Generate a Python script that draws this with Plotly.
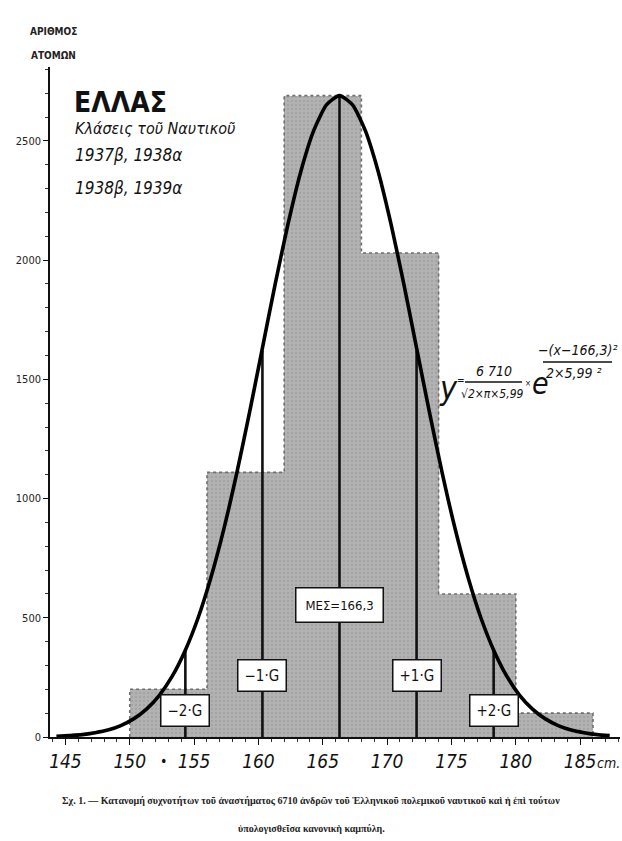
import plotly.graph_objects as go

# ---------------- data ----------------
bin_edges = [150, 156, 162, 168, 174, 180, 186]
counts = [200, 1110, 2690, 2030, 600, 100]

mean_value = 166.3
sd_value = 5.99
sigma_multiples = [-2, -1, 0, 1, 2]
sigma_line_tops = [365, 1620, 2690, 1620, 365]
sigma_labels = ["−2·G", "−1·G", "ΜΕΣ=166,3", "+1·G", "+2·G"]
sigma_label_y = [113, 256, 554, 256, 113]

curve_x = [144.3, 145.3, 146.3, 147.3, 148.3, 149.3, 150.3, 151.3, 152.3, 153.3,
           154.3, 155.3, 156.3, 157.3, 158.3, 159.3, 160.3, 161.3, 162.3, 163.3,
           164.3, 165.3, 166.3, 167.3, 168.3, 169.3, 170.3, 171.3, 172.3, 173.3,
           174.3, 175.3, 176.3, 177.3, 178.3, 179.3, 180.3, 181.3, 182.3, 183.3,
           184.3, 185.3, 186.3, 187.3]
curve_y = [3, 6, 10, 18, 29, 48, 76, 117, 175, 255, 362, 498, 668, 870, 1103,
           1359, 1629, 1899, 2152, 2373, 2544, 2652, 2690, 2652, 2544, 2373,
           2152, 1899, 1629, 1359, 1103, 870, 668, 498, 362, 255, 175, 117, 76,
           48, 29, 18, 10, 6]

x_tick_vals = [145, 150, 155, 160, 165, 170, 175, 180, 185]
x_tick_text = ["145", "150", "155", "160", "165", "170", "175", "180", "185"]
y_tick_vals = [0, 500, 1000, 1500, 2000, 2500]
y_tick_text = ["0", "500", "1000", "1500", "2000", "2500"]

# ---------------- geometry helpers (pixel -> paper) ----------------
W, H = 622, 841
ML, MR, MT, MB = 50, 2, 67, 104
PW, PH = W - ML - MR, H - MT - MB


def px(x):
    return (x - ML) / PW


def py(y):
    return (H - MB - y) / PH


def cond(s):
    return '<span style="font-stretch:condensed">' + s + '</span>'


SANS = "DejaVu Sans Condensed, DejaVu Sans, sans-serif"


def note(xp, yp, text, size, xanchor="center", family=SANS, color="#111"):
    return dict(x=px(xp), y=py(yp), xref="paper", yref="paper",
                xanchor=xanchor, yanchor="middle", text=text, showarrow=False,
                font=dict(family=family, size=size, color=color))


fig = go.Figure()

# bars
centers = [(bin_edges[i] + bin_edges[i + 1]) / 2 for i in range(len(counts))]
widths = [bin_edges[i + 1] - bin_edges[i] for i in range(len(counts))]
fig.add_trace(go.Bar(
    x=centers, y=counts, width=widths,
    marker=dict(color="#adadad", line=dict(width=0),
                pattern=dict(shape=".", fgcolor="#939393", bgcolor="#b2b2b2",
                             size=4, solidity=0.25)),
    hoverinfo="skip", showlegend=False))

# dashed outline of bars
ox, oy = [bin_edges[0]], [0]
for i, c in enumerate(counts):
    ox += [bin_edges[i], bin_edges[i + 1]]
    oy += [c, c]
ox.append(bin_edges[-1])
oy.append(0)
fig.add_trace(go.Scatter(x=ox, y=oy, mode="lines",
                         line=dict(color="#6e6e6e", width=1.6, dash="dot"),
                         hoverinfo="skip", showlegend=False))

# mean and sigma lines
lx, ly = [], []
for k, top in zip(sigma_multiples, sigma_line_tops):
    xv = mean_value + k * sd_value
    lx += [xv, xv, None]
    ly += [0, top, None]
fig.add_trace(go.Scatter(x=lx, y=ly, mode="lines",
                         line=dict(color="#111111", width=2.6),
                         hoverinfo="skip", showlegend=False))

# normal curve
fig.add_trace(go.Scatter(x=curve_x, y=curve_y, mode="lines",
                         line=dict(color="#000000", width=3.6, shape="spline",
                                   smoothing=0.6),
                         hoverinfo="skip", showlegend=False))

annotations = []

# sigma label boxes
for k, lab, yv in zip(sigma_multiples, sigma_labels, sigma_label_y):
    annotations.append(dict(
        x=mean_value + k * sd_value, y=yv, xref="x", yref="y", text=cond(lab),
        xanchor="center", yanchor="middle",
        showarrow=False, bgcolor="white", bordercolor="#111111", borderwidth=1.5,
        borderpad=6 if k != 0 else 9,
        font=dict(family=SANS, size=15 if k != 0 else 13, color="#111111")))

# y-axis title
annotations.append(note(53, 32, cond("<b>ΑΡΙΘΜΟΣ</b>"), 10, color="#222"))
annotations.append(note(53, 55, cond("<b>ΑΤΟΜΩΝ</b>"), 10, color="#222"))

# title block
annotations.append(note(72, 102, cond("<b>ΕΛΛΑΣ</b>"), 28, xanchor="left"))
annotations.append(note(73, 129, cond("<i>Κλάσεις τοῦ Ναυτικοῦ</i>"), 16, xanchor="left"))
annotations.append(note(73, 155, cond("<i>1937β, 1938α</i>"), 17, xanchor="left"))
annotations.append(note(73, 188, cond("<i>1938β, 1939α</i>"), 17, xanchor="left"))

# formula
annotations += [
    note(448, 388, cond("<i>y</i>"), 32),
    note(461, 381, "=", 10),
    note(494, 371, cond("<i>6 710</i>"), 14),
    note(492, 394, cond("<i>√2×π×5,99</i>"), 12),
    note(528, 383, "×", 8),
    note(540, 384, cond("<i>e</i>"), 30),
    note(577, 350, cond("<i>−(x−166,3)²</i>"), 14),
    note(574, 373, cond("<i>2×5,99 ²</i>"), 14),
]

# extra x-axis bits
annotations.append(note(595, 763, cond("<i>cm.</i>"), 14, xanchor="left"))
annotations.append(note(163, 761, "•", 14))

# caption
annotations.append(note(
    311, 801,
    "<b>Σχ. 1. — Κατανομή συχνοτήτων τοῦ ἀναστήματος 6710 ἀνδρῶν τοῦ "
    "Ἑλληνικοῦ πολεμικοῦ ναυτικοῦ καὶ ἡ ἐπὶ τούτων</b>",
    10, family="Liberation Serif, serif", color="#222"))
annotations.append(note(
    311, 828, "<b>ὑπολογισθεῖσα κανονικὴ καμπύλη.</b>",
    10, family="Liberation Serif, serif", color="#222"))

shapes = [
    dict(type="line", xref="paper", yref="paper", x0=px(465), x1=px(522),
         y0=py(382), y1=py(382), line=dict(color="#111", width=1.6)),
    dict(type="line", xref="paper", yref="paper", x0=px(543), x1=px(612),
         y0=py(362), y1=py(362), line=dict(color="#111", width=1.6)),
]

fig.update_layout(
    width=W, height=H,
    margin=dict(l=ML, r=MR, t=MT, b=MB, pad=0, autoexpand=False),
    paper_bgcolor="white", plot_bgcolor="white",
    bargap=0, showlegend=False,
    annotations=annotations, shapes=shapes,
    xaxis=dict(range=[143.8, 188.1], tickvals=x_tick_vals,
               ticktext=[cond("<i>" + t + "</i>") for t in x_tick_text],
               automargin=False,
               showgrid=False, zeroline=False, showline=True, linecolor="#111",
               linewidth=1.6, ticks="outside", ticklen=6, tickwidth=1.2,
               tickcolor="#111",
               tickfont=dict(family=SANS, size=19, color="#111"),
               minor=dict(dtick=1, ticks="outside", ticklen=3, tickcolor="#333",
                          tickwidth=1)),
    yaxis=dict(range=[0, 2810], tickvals=y_tick_vals,
               ticktext=[cond(t) for t in y_tick_text],
               automargin=False,
               showgrid=False, zeroline=False, showline=True, linecolor="#111",
               linewidth=1.6, ticks="outside", ticklen=5, tickwidth=1.2,
               tickcolor="#111",
               tickfont=dict(family=SANS, size=11, color="#222"),
               minor=dict(dtick=100, ticks="outside", ticklen=3, tickcolor="#333",
                          tickwidth=1)),
)

fig.write_html(
    "out.html",
    config={"displayModeBar": False},
    post_script="document.body.style.margin='0';"
                "document.body.style.overflow='hidden';",
)
